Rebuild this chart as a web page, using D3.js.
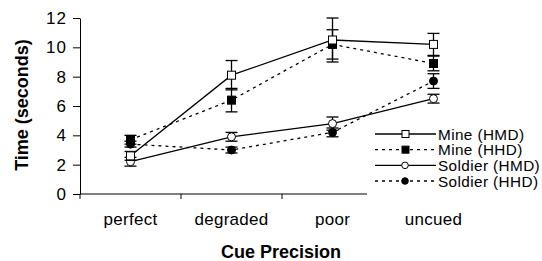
<!DOCTYPE html>
<html>
<head>
<meta charset="utf-8">
<script src="https://cdn.jsdelivr.net/npm/d3@7"></script>
<style>
  body { margin: 0; background: #fff; }
  text { font-family: "Liberation Sans", Arial, sans-serif; fill: #000; }
</style>
</head>
<body>
<div id="chart"></div>
<script>
// categories and series
var categories = ["perfect", "degraded", "poor", "uncued"];
var seriesNames = ["Mine (HMD)", "Mine (HHD)", "Soldier (HMD)", "Soldier (HHD)"];
var mineHMD = [2.6, 8.1, 10.5, 10.2];
var mineHMDerr = [0.3, 1.0, 1.5, 0.75];
var mineHHD = [3.7, 6.4, 10.2, 8.9];
var mineHHDerr = [0.3, 0.8, 1.0, 0.5];
var soldierHMD = [2.2, 3.9, 4.8, 6.5];
var soldierHMDerr = [0.3, 0.3, 0.45, 0.3];
var soldierHHD = [3.4, 3.0, 4.2, 7.7];
var soldierHHDerr = [0.2, 0.2, 0.3, 0.5];
var yTicks = [0, 2, 4, 6, 8, 10, 12];

var svgWidth = 542, svgHeight = 261;
var svg = d3.select("#chart").append("svg")
    .attr("width", svgWidth).attr("height", svgHeight);

// plot area
var x0 = 80, x1 = 484, yTop = 18, yBot = 194;

var xScale = d3.scaleBand().domain(categories).range([x0, x1]);
var yScale = d3.scaleLinear().domain([0, 12]).range([yBot, yTop]);

// axes
var xAxis = svg.append("g").attr("transform", `translate(0, ${yBot})`)
    .call(d3.axisBottom(xScale).tickSize(0).tickFormat(""));
xAxis.select(".domain").attr("stroke", "#000").attr("d", `M${x0},0H${x1}`);
xAxis.selectAll(".xtick").data(categories).enter().append("line")
    .attr("x1", d => xScale(d)).attr("x2", d => xScale(d))
    .attr("y1", 0).attr("y2", 5).attr("stroke", "#000");

var yAxis = svg.append("g").attr("transform", `translate(${x0}, 0)`)
    .call(d3.axisLeft(yScale).tickValues(yTicks).tickSize(7).tickSizeOuter(0).tickPadding(6));
yAxis.select(".domain").attr("stroke", "#000");
yAxis.selectAll(".tick line").attr("stroke", "#000");
yAxis.selectAll(".tick text").attr("font-size", 17).attr("letter-spacing", 1)
    .attr("font-family", "Liberation Sans, Arial, sans-serif");

// category labels
svg.selectAll(".catLabel").data(categories).enter().append("text")
    .attr("x", d => xScale(d) + xScale.bandwidth() / 2)
    .attr("y", 225)
    .attr("text-anchor", "middle")
    .attr("font-size", 17)
    .attr("letter-spacing", 0.3)
    .text(d => d);

// axis titles
svg.append("text").attr("x", 281).attr("y", 258)
    .attr("text-anchor", "middle").attr("font-size", 18).attr("font-weight", "bold")
    .text("Cue Precision");
svg.append("text")
    .attr("transform", `translate(28, 105) rotate(-90)`)
    .attr("text-anchor", "middle").attr("font-size", 18).attr("font-weight", "bold")
    .text("Time (seconds)");

var series = [
    {name: seriesNames[0], vals: mineHMD, err: mineHMDerr, dash: null, shape: "square", fill: "#fff"},
    {name: seriesNames[1], vals: mineHHD, err: mineHHDerr, dash: "3,4", shape: "square", fill: "#000"},
    {name: seriesNames[2], vals: soldierHMD, err: soldierHMDerr, dash: null, shape: "circle", fill: "#fff"},
    {name: seriesNames[3], vals: soldierHHD, err: soldierHHDerr, dash: "3,4", shape: "circle", fill: "#000"}
];

var cx = d => xScale(d) + xScale.bandwidth() / 2;
var line = d3.line().x(d => cx(d.c)).y(d => yScale(d.v));

// draw from back to front
series.slice().reverse().forEach(function(s) {
    var pts = categories.map((c, i) => ({c: c, v: s.vals[i], e: s.err[i]}));
    var g = svg.append("g");
    g.append("path").datum(pts).attr("d", line)
        .attr("fill", "none").attr("stroke", "#000").attr("stroke-width", 1.3)
        .attr("stroke-dasharray", s.dash);
    // error bars
    pts.forEach(function(p) {
        var x = cx(p.c), yh = yScale(p.v + p.e), yl = yScale(p.v - p.e);
        g.append("line").attr("x1", x).attr("x2", x).attr("y1", yh).attr("y2", yl).attr("stroke", "#000").attr("stroke-width", 1.3);
        g.append("line").attr("x1", x - 6).attr("x2", x + 6).attr("y1", yh).attr("y2", yh).attr("stroke", "#000").attr("stroke-width", 1.3);
        g.append("line").attr("x1", x - 6).attr("x2", x + 6).attr("y1", yl).attr("y2", yl).attr("stroke", "#000").attr("stroke-width", 1.3);
    });
    // markers
    if (s.shape === "square") {
        g.selectAll("rect").data(pts).enter().append("rect")
            .attr("x", d => cx(d.c) - 4).attr("y", d => yScale(d.v) - 4)
            .attr("width", 8).attr("height", 8)
            .attr("fill", s.fill).attr("stroke", "#000").attr("stroke-width", 1);
    } else {
        g.selectAll("circle").data(pts).enter().append("circle")
            .attr("cx", d => cx(d.c)).attr("cy", d => yScale(d.v)).attr("r", 4)
            .attr("fill", s.fill).attr("stroke", "#000").attr("stroke-width", 1);
    }
});

// legend with white background
var legend = svg.append("g");
legend.append("rect").attr("x", 367).attr("y", 124).attr("width", 175).attr("height", 76).attr("fill", "#fff");
var legendY = d3.scalePoint().domain(seriesNames).range([134, 181]);
series.forEach(function(s) {
    var y = legendY(s.name);
    legend.append("line").attr("x1", 375).attr("x2", 436).attr("y1", y).attr("y2", y)
        .attr("stroke", "#000").attr("stroke-width", 1.3).attr("stroke-dasharray", s.dash);
    if (s.shape === "square") {
        legend.append("rect").attr("x", 402).attr("y", y - 3.5).attr("width", 7).attr("height", 7)
            .attr("fill", s.fill).attr("stroke", "#000");
    } else {
        legend.append("circle").attr("cx", 405).attr("cy", y).attr("r", 3.3)
            .attr("fill", s.fill).attr("stroke", "#000");
    }
    legend.append("text").attr("x", 438).attr("y", y + 5.5).attr("font-size", 15.3)
        .attr("letter-spacing", 0.4).text(s.name);
});
</script>
</body>
</html>
